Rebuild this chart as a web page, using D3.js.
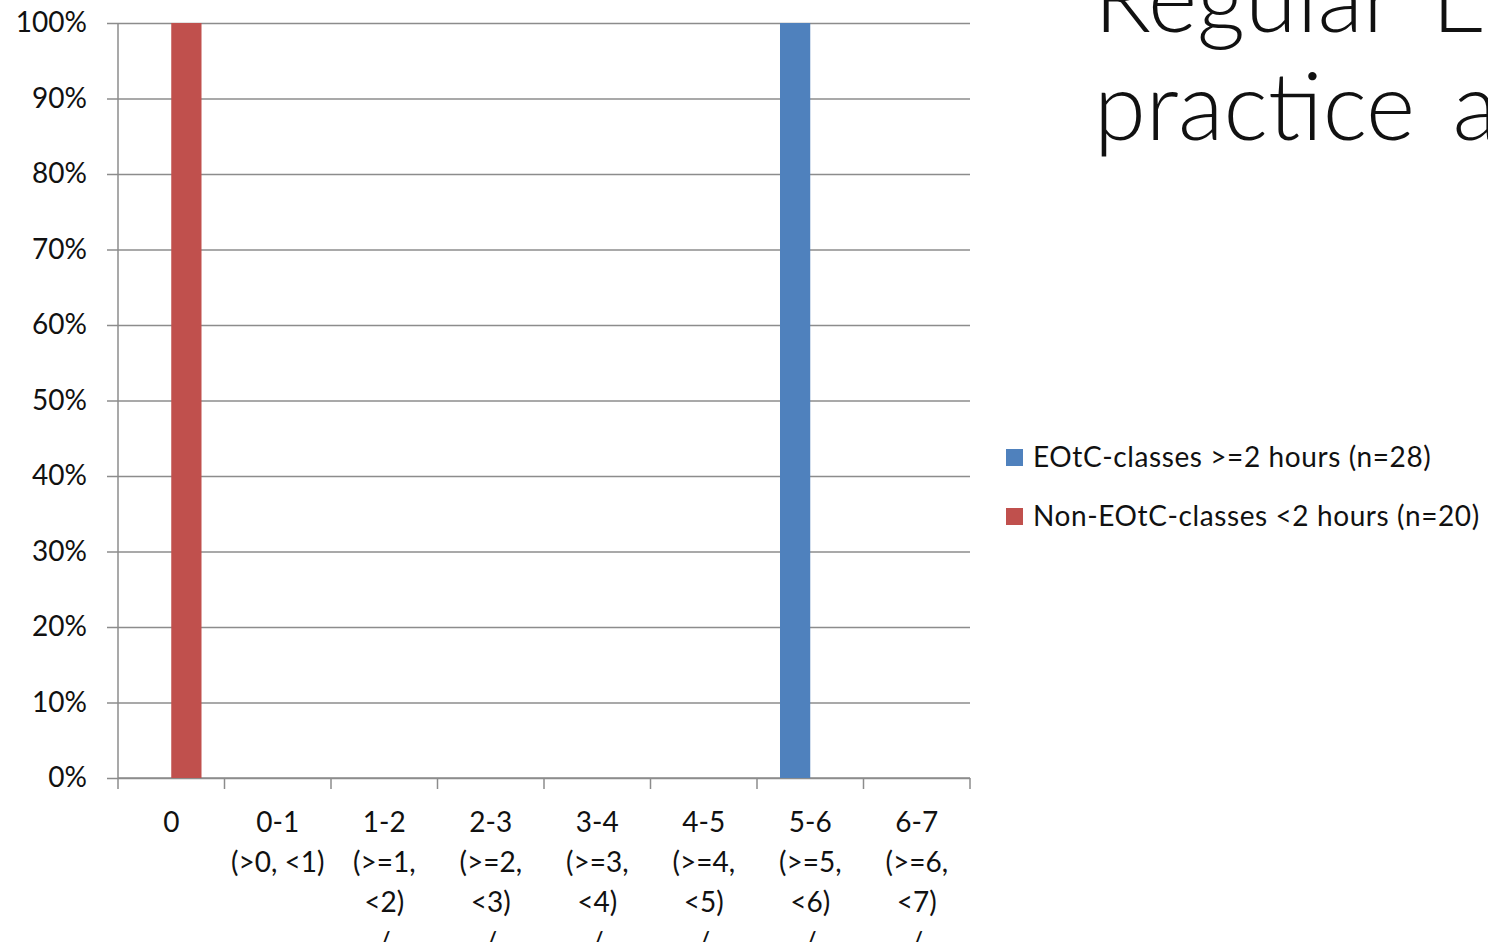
<!DOCTYPE html>
<html>
<head>
<meta charset="utf-8">
<script src="https://cdn.jsdelivr.net/npm/d3@7"></script>
<style>
  body { margin: 0; background: #fff; overflow: hidden; }
  text { font-family: Lato, "Noto Sans", sans-serif; fill: #111; }
</style>
</head>
<body>
<div id="chart"></div>
<script>
// categories (hours per week), each label split in lines
const categories = ["0", "0-1", "1-2", "2-3", "3-4", "4-5", "5-6", "6-7"];
const categoryLines = [
    ["0"],
    ["0-1", "(>0, <1)"],
    ["1-2", "(>=1,", "<2)", "/"],
    ["2-3", "(>=2,", "<3)", "/"],
    ["3-4", "(>=3,", "<4)", "/"],
    ["4-5", "(>=4,", "<5)", "/"],
    ["5-6", "(>=5,", "<6)", "/"],
    ["6-7", "(>=6,", "<7)", "/"]
];
const seriesNames = ["EOtC-classes >=2 hours (n=28)", "Non-EOtC-classes <2 hours (n=20)"];
const seriesColors = ["#4f81bd", "#c0504d"];
const eotcValues = [0, 0, 0, 0, 0, 0, 1, 0];
const nonEotcValues = [1, 0, 0, 0, 0, 0, 0, 0];
const yTicks = [0, 0.1, 0.2, 0.3, 0.4, 0.5, 0.6, 0.7, 0.8, 0.9, 1];
const titleLines = ["Regular EOtC", "practice and"];

const width = 1488, height = 942;
const margin = {top: 23, right: 518, bottom: 164, left: 118};
const plotW = width - margin.left - margin.right;   // 852
const plotH = height - margin.top - margin.bottom;  // 755

const svg = d3.select("#chart").append("svg")
    .attr("width", width)
    .attr("height", height);

const g = svg.append("g")
    .attr("transform", "translate(" + margin.left + "," + margin.top + ")");

const x0 = d3.scaleBand().domain(categories).range([0, plotW]).padding(0);
const x1 = d3.scaleBand().domain(seriesNames).range([0, x0.bandwidth()])
    .paddingInner(0).paddingOuter(0.76);
const y = d3.scaleLinear().domain([0, 1]).range([plotH, 0]);

const gridColor = "#8c8c8c";

// gridlines + y labels
const yAxis = d3.axisLeft(y).tickValues(yTicks).tickFormat(d3.format(".0%"))
    .tickSize(11).tickPadding(20);
const yG = g.append("g").attr("class", "yAxisG").call(yAxis);
yG.select(".domain").attr("stroke", gridColor).attr("stroke-width", 1.5).attr("d", "M0,0V" + plotH);
yG.selectAll(".tick line").attr("stroke", gridColor).attr("stroke-width", 1.5)
    .attr("x1", -11).attr("x2", plotW);
yG.selectAll(".tick text").style("font-size", "28px").attr("fill", "#111");

// x axis with ticks at band boundaries
const xG = g.append("g").attr("transform", "translate(0," + plotH + ")");
xG.append("line").attr("x1", 0).attr("x2", plotW).attr("stroke", gridColor).attr("stroke-width", 1.5);
const bounds = categories.map(c => x0(c)).concat([plotW]);
xG.selectAll(".bound").data(bounds).join("line")
    .attr("class", "bound")
    .attr("x1", d => d).attr("x2", d => d)
    .attr("y1", 0).attr("y2", 11)
    .attr("stroke", gridColor).attr("stroke-width", 1.5);

const labelG = xG.selectAll(".catLabel").data(categories).join("text")
    .attr("class", "catLabel")
    .attr("text-anchor", "middle")
    .attr("x", d => x0(d) + x0.bandwidth() / 2)
    .style("font-size", "28px");
labelG.selectAll("tspan").data((d, i) => categoryLines[i]).join("tspan")
    .attr("x", function() { return d3.select(this.parentNode).attr("x"); })
    .attr("y", (d, i) => 54 + i * 40)
    .text(d => d);

// bars
const seriesData = [eotcValues, nonEotcValues];
seriesData.forEach((vals, s) => {
    g.selectAll(".bar" + s).data(vals).join("rect")
        .attr("class", "bar" + s)
        .attr("x", (d, i) => x0(categories[i]) + x1(seriesNames[s]))
        .attr("width", x1.bandwidth())
        .attr("y", d => y(d))
        .attr("height", d => plotH - y(d))
        .attr("fill", seriesColors[s]);
});

// legend
const legend = svg.append("g").attr("transform", "translate(1006, 449)");
seriesNames.forEach((name, i) => {
    legend.append("rect")
        .attr("x", 0).attr("y", i * 59)
        .attr("width", 17).attr("height", 17)
        .attr("fill", seriesColors[i]);
    legend.append("text")
        .attr("x", 27).attr("y", i * 59 + 18)
        .style("font-size", "28px")
        .style("letter-spacing", "0.6px")
        .text(name);
});

// slide title (cut off at the edge)
svg.append("g").selectAll("text").data(titleLines).join("text")
    .attr("x", 1094)
    .attr("y", (d, i) => 32 + i * 108)
    .style("font-size", "94px")
    .style("font-weight", 300)
    .style("word-spacing", "12px")
    .attr("fill", "#000")
    .text(d => d);
</script>
</body>
</html>
